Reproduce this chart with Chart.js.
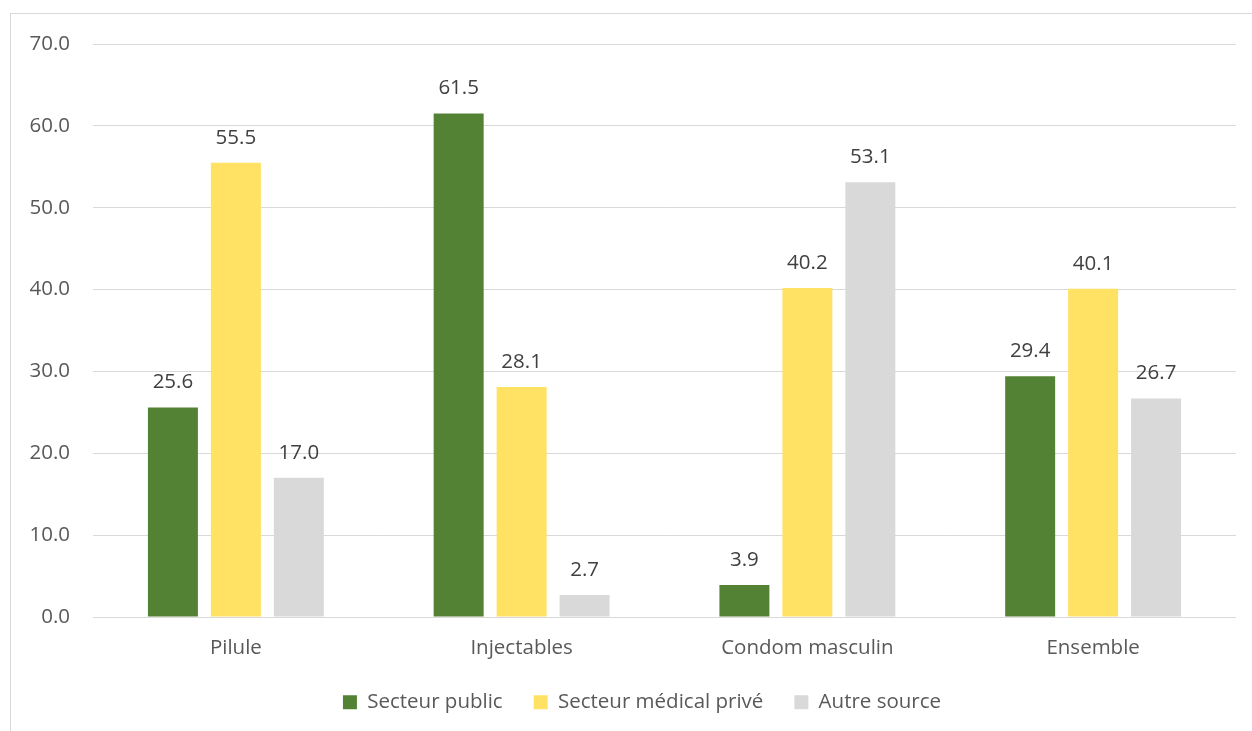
<!DOCTYPE html>
<html>
<head>
<meta charset="utf-8">
<script src="https://cdn.jsdelivr.net/npm/chart.js@4/dist/chart.umd.min.js"></script>
<style>
	html, body { margin: 0; padding: 0; background: #fff; overflow: hidden; }
	#frame { position: absolute; left: 10px; top: 13px; width: 1400px; height: 900px; border: 1px solid #d9d9d9; }
	#wrap { position: absolute; left: 0; top: 0; width: 1252px; height: 731px; }
</style>
</head>
<body>
<div id="frame"></div>
<div id="wrap"><canvas id="chart" width="1252" height="731"></canvas></div>
<script>
// Data
const categories = ['Pilule', 'Injectables', 'Condom masculin', 'Ensemble'];
const seriesNames = ['Secteur public', 'Secteur médical privé', 'Autre source'];
const publicValues = [25.6, 61.5, 3.9, 29.4];
const privateValues = [55.5, 28.1, 40.2, 40.1];
const otherValues = [17.0, 2.7, 53.1, 26.7];
const yTicks = [0, 10, 20, 30, 40, 50, 60, 70];

const colors = ['#548235', '#ffe264', '#d9d9d9'];
const textColor = '#595959';
const fontFamily = '"Open Sans", "Noto Sans", sans-serif';
const fontSize = 20.5;

// Simple value labels above each bar
const valueLabels = {
	id: 'valueLabels',
	afterDatasetsDraw(chart) {
		const ctx = chart.ctx;
		ctx.save();
		ctx.fillStyle = '#404040';
		ctx.font = fontSize + 'px ' + fontFamily;
		ctx.textAlign = 'center';
		ctx.textBaseline = 'middle';
		chart.data.datasets.forEach((ds, i) => {
			chart.getDatasetMeta(i).data.forEach((bar, j) => {
				ctx.fillText(ds.data[j].toFixed(1), bar.x, bar.y - 25);
			});
		});
		ctx.restore();
	}
};

// Fixed legend height, and nudge it right (the source frame is wider than the picture)
const legendBox = {
	id: 'legendBox',
	beforeInit(chart) {
		const fit = chart.legend.fit;
		chart.legend.fit = function () {
			fit.bind(chart.legend)();
			this.height = 58;
		};
	},
	afterLayout(chart) {
		chart.legend.left += 24;
		chart.legend.right += 24;
	}
};

new Chart(document.getElementById('chart'), {
	type: 'bar',
	data: {
		labels: categories,
		datasets: [
			{ label: seriesNames[0], data: publicValues, backgroundColor: colors[0] },
			{ label: seriesNames[1], data: privateValues, backgroundColor: colors[1] },
			{ label: seriesNames[2], data: otherValues, backgroundColor: colors[2] }
		]
	},
	options: {
		responsive: false,
		animation: false,
		datasets: { bar: { categoryPercentage: 0.661, barPercentage: 0.794 } },
		layout: { padding: { top: 44, right: 16, bottom: 12, left: 0 } },
		scales: {
			x: {
				grid: { display: false },
				border: { display: false },
				ticks: { color: textColor, font: { family: fontFamily, size: fontSize }, padding: 11 },
				afterFit(scale) { scale.height = 44; }
			},
			y: {
				min: 0,
				max: 70,
				afterBuildTicks(scale) { scale.ticks = yTicks.map(v => ({ value: v })); },
				grid: { color: '#d9d9d9', lineWidth: 1, drawTicks: false },
				border: { display: false },
				ticks: {
					color: textColor,
					font: { family: fontFamily, size: fontSize },
					padding: 23,
					callback: v => v.toFixed(1)
				},
				afterFit(scale) { scale.width = 93; }
			}
		},
		plugins: {
			legend: {
				position: 'bottom',
				labels: {
					color: textColor,
					font: { family: fontFamily, size: fontSize },
					boxWidth: 14,
					boxHeight: 14,
					padding: 31
				}
			},
			tooltip: { enabled: false }
		}
	},
	plugins: [valueLabels, legendBox]
});
</script>
</body>
</html>
